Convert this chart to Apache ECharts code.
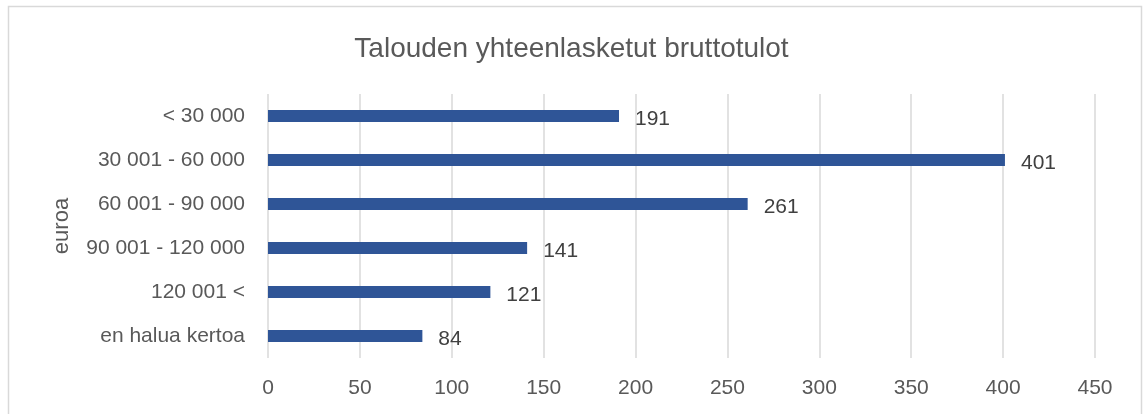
<!DOCTYPE html>
<html>
<head>
<meta charset="utf-8">
<script src="https://cdn.jsdelivr.net/npm/echarts@6/dist/echarts.min.js"></script>
<style>
  html, body { margin: 0; padding: 0; background: #fff; }
  #main { width: 1143px; height: 414px; }
</style>
</head>
<body>
<div id="main"></div>
<script>
// data
var categories = ['< 30 000', '30 001 - 60 000', '60 001 - 90 000', '90 001 - 120 000', '120 001 <', 'en halua kertoa'];
var values = [191, 401, 261, 141, 121, 84];

var chart = echarts.init(document.getElementById('main'));
var font = 'Liberation Sans';
var grey = '#595959';

var option = {
    backgroundColor: '#fff',
    title: {
        text: 'Talouden yhteenlasketut bruttotulot',
        left: 'center',
        top: 30,
        textStyle: { fontFamily: font, fontSize: 28, fontWeight: 'normal', color: grey }
    },
    graphic: [{
        type: 'rect',
        shape: { x: 8.5, y: 6.5, width: 1133, height: 420 },
        style: { fill: 'none', stroke: '#d9d9d9', lineWidth: 1.5 },
        silent: true
    }],
    grid: { left: 268, right: 48, top: 94, bottom: 56 },
    xAxis: {
        type: 'value',
        min: 0,
        max: 450,
        interval: 50,
        axisLine: { show: false },
        axisTick: { show: false },
        axisLabel: { fontFamily: font, fontSize: 21, color: grey, margin: 20 },
        splitLine: { lineStyle: { color: '#d9d9d9', width: 1.5 } }
    },
    yAxis: {
        type: 'category',
        data: categories,
        inverse: true,
        name: 'euroa',
        nameLocation: 'middle',
        nameGap: 195,
        nameRotate: 90,
        nameTextStyle: { fontFamily: font, fontSize: 22, color: grey },
        axisLine: { show: false },
        axisTick: { show: false },
        axisLabel: { fontFamily: font, fontSize: 21, color: grey, margin: 23 }
    },
    series: [{
        type: 'bar',
        data: values,
        barWidth: 12,
        itemStyle: { color: '#2F5597' },
        label: {
            show: true,
            position: 'right',
            distance: 16,
            offset: [0, 3],
            fontFamily: font,
            fontSize: 21,
            color: '#404040'
        },
        silent: true
    }],
    animation: false
};
chart.setOption(option);
</script>
</body>
</html>
